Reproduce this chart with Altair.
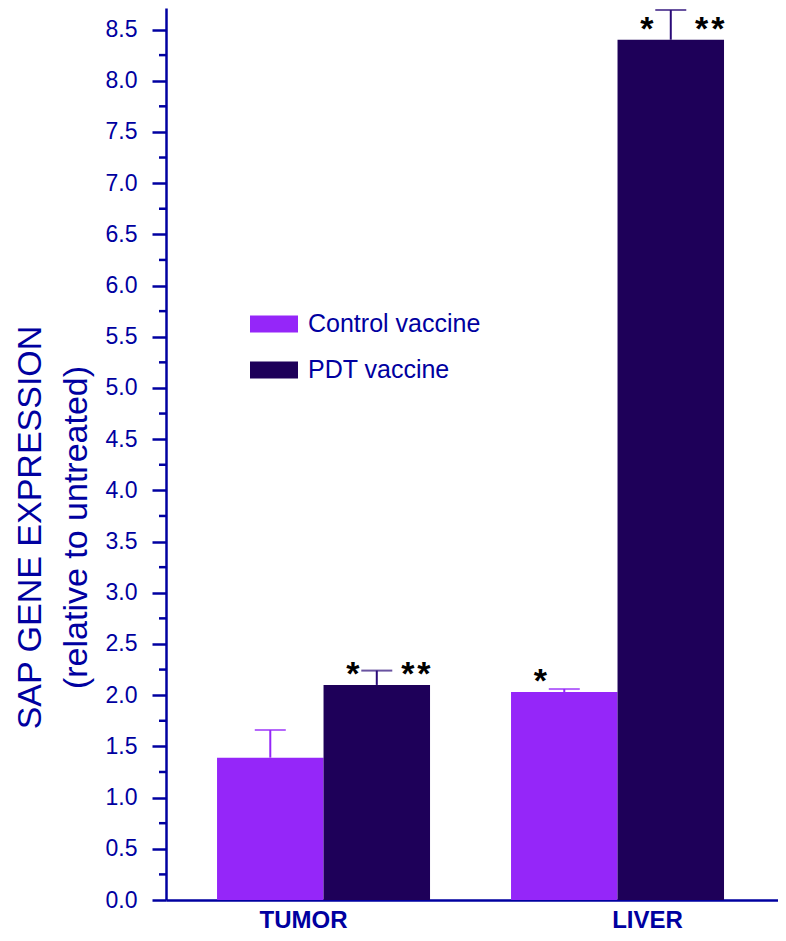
import altair as alt
import pandas as pd

# ---- data ----
groups = ["TUMOR", "TUMOR", "LIVER", "LIVER"]
series = ["Control vaccine", "PDT vaccine", "Control vaccine", "PDT vaccine"]
means = [1.39, 2.10, 2.03, 8.40]
err_tops = [1.66, 2.24, 2.06, 8.69]
stars_left = ["", "*", "*", "*"]
stars_right = ["", "*\u200a*", "", "*\u200a*"]

group_order = ["TUMOR", "LIVER"]
series_order = ["Control vaccine", "PDT vaccine"]
major_ticks = [0.0, 0.5, 1.0, 1.5, 2.0, 2.5, 3.0, 3.5, 4.0, 4.5, 5.0, 5.5,
               6.0, 6.5, 7.0, 7.5, 8.0, 8.5]
minor_ticks = [0.25, 0.75, 1.25, 1.75, 2.25, 2.75, 3.25, 3.75, 4.25, 4.75,
               5.25, 5.75, 6.25, 6.75, 7.25, 7.75, 8.25]

# ---- styles ----
BAR_COLORS = ["#9526F9", "#1E0059"]
ERR_COLORS = ["#9526F9", "#2A0A78"]
AXIS_COL = "#0000A0"
FONT = "Liberation Sans"

df = pd.DataFrame({
    "group": groups, "series": series, "mean": means, "err": err_tops,
    "sl": stars_left, "sr": stars_right,
})
minor_df = pd.DataFrame({"v": minor_ticks})

y_scale = alt.Scale(domain=[0, 8.71], nice=False, zero=True)

y_axis = alt.Axis(
    values=major_ticks, format=".1f", grid=False,
    tickSize=14, tickWidth=2.5, tickColor=AXIS_COL,
    domainColor=AXIS_COL, domainWidth=2.5,
    labelFont=FONT, labelFontSize=23, labelColor=AXIS_COL, labelPadding=15,
    title=["SAP GENE EXPRESSION", "(relative to untreated)"],
    titleFont=FONT, titleFontSize=34, titleFontWeight="normal",
    titleColor=AXIS_COL, titleAngle=270, titleAlign="center",
    titleBaseline="alphabetic", titleX=-126, titleY=519, titleLineHeight=46,
)

base = alt.Chart(df).encode(
    x=alt.X(
        "group:N", sort=group_order, title=None,
        scale=alt.Scale(paddingInner=0.2755, paddingOuter=0.1786, align=0.486),
        axis=alt.Axis(
            labelAngle=0, ticks=False, tickSize=0, labelPadding=8,
            labelFont=FONT, labelFontSize=24, labelFontWeight="bold",
            labelColor=AXIS_COL, domainColor=AXIS_COL, domainWidth=2.5,
            labelOffset={"condition": {"test": "datum.value === 'TUMOR'", "value": -20}, "value": 30},
        ),
    ),
    xOffset=alt.XOffset("series:N", sort=series_order,
                        scale=alt.Scale(paddingInner=0, paddingOuter=0)),
)

bars = base.mark_bar().encode(
    y=alt.Y("mean:Q", scale=y_scale, axis=y_axis),
    color=alt.Color(
        "series:N", sort=series_order,
        scale=alt.Scale(domain=series_order, range=BAR_COLORS),
        legend=alt.Legend(
            orient="none", legendX=84, legendY=292, title=None,
            symbolType="M-1,-0.354H1V0.354H-1Z", symbolSize=2304,
            symbolStrokeWidth=0, symbolOpacity=1,
            labelFont=FONT, labelFontSize=25, labelColor=AXIS_COL,
            labelOffset=10, labelLimit=0, rowPadding=9,
        ),
    ),
)

err_color = alt.condition("datum.series === 'Control vaccine'",
                          alt.value(ERR_COLORS[0]), alt.value(ERR_COLORS[1]))

rules = base.mark_rule(strokeWidth=2).encode(
    y=alt.Y("mean:Q", scale=y_scale, axis=y_axis), y2="err:Q", color=err_color)

caps = base.mark_tick(orient="horizontal", size=31, thickness=2).encode(
    y=alt.Y("err:Q", scale=y_scale, axis=y_axis), color=err_color)

star_l = base.mark_text(font=FONT, fontSize=34, fontWeight="bold", color="black",
                        baseline="alphabetic", align="center", dx=-24).encode(
    y=alt.Y("mean:Q", scale=y_scale, axis=y_axis), text="sl:N")

star_r = base.mark_text(font=FONT, fontSize=34, fontWeight="bold", color="black",
                        baseline="alphabetic", align="center", dx=39).encode(
    y=alt.Y("mean:Q", scale=y_scale, axis=y_axis), text="sr:N")

minor = alt.Chart(minor_df).mark_rule(color=AXIS_COL, strokeWidth=2.5).encode(
    y=alt.Y("v:Q", scale=y_scale, axis=y_axis),
    x=alt.value(-7), x2=alt.value(0),
)

chart = alt.layer(bars, rules, caps, star_l, star_r, minor).properties(
    width=612, height=892,
    autosize="none",
    padding={"left": 158, "top": 0, "right": 0, "bottom": 33},
    background="white",
).configure_view(stroke=None)

chart.save("out.html", embed_options={"renderer": "svg", "actions": False})
